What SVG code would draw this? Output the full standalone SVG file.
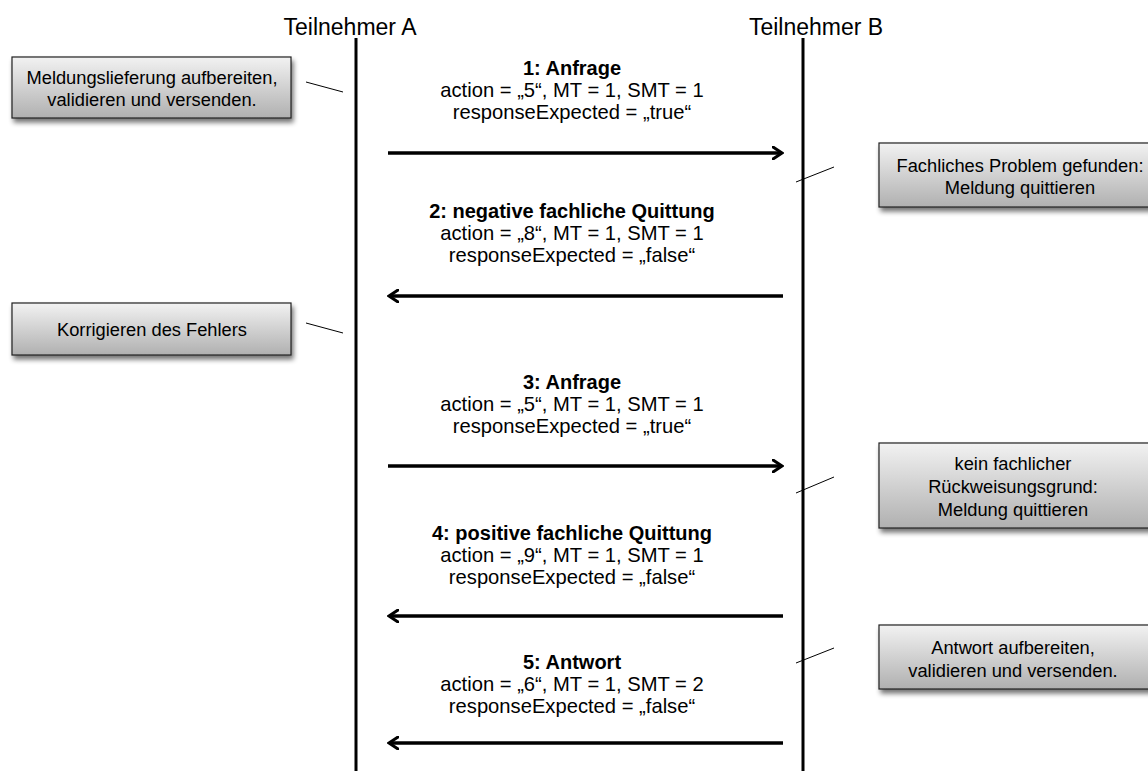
<svg xmlns="http://www.w3.org/2000/svg" width="1148" height="771" viewBox="0 0 1148 771">
<defs>
<linearGradient id="g" x1="0" y1="0" x2="0" y2="1">
<stop offset="0" stop-color="#f2f2f2"/>
<stop offset="1" stop-color="#b0b0b0"/>
</linearGradient>
<filter id="sh" x="-10%" y="-20%" width="125%" height="150%">
<feGaussianBlur in="SourceAlpha" stdDeviation="2.5"/>
<feOffset dx="2" dy="4" result="b"/>
<feComponentTransfer><feFuncA type="linear" slope="0.55"/></feComponentTransfer>
<feMerge><feMergeNode/><feMergeNode in="SourceGraphic"/></feMerge>
</filter>
<marker id="ah" viewBox="0 0 12 14" refX="10" refY="7" markerWidth="12" markerHeight="14" markerUnits="userSpaceOnUse" orient="auto">
<path d="M1,1 L10,7 L1,13" fill="none" stroke="#000" stroke-width="3" stroke-linecap="round" stroke-linejoin="miter"/>
</marker>
</defs>
<style>
text{font-family:"Liberation Sans",Arial,sans-serif;fill:#000}
.t{font-size:23px;text-anchor:middle}
.m{font-size:20.2px;text-anchor:middle}
.b{font-weight:bold;font-size:20px}
.n{font-size:18.3px;text-anchor:middle}
.box{fill:url(#g);stroke:#222;stroke-width:1.2;filter:url(#sh)}
.life{stroke:#000;stroke-width:3}
.msg{stroke:#000;stroke-width:3.5;fill:none;marker-end:url(#ah)}
.lead{stroke:#000;stroke-width:1;fill:none}
</style>
<rect width="1148" height="771" fill="#fff"/>
<g id="participantA">
<text class="t" x="350" y="35">Teilnehmer A</text>
<line class="life" x1="356" y1="38" x2="356" y2="771"/>
</g>
<g id="participantB">
<text class="t" x="816" y="35">Teilnehmer B</text>
<line class="life" x1="803" y1="38" x2="803" y2="771"/>
</g>
<g id="note1">
<rect class="box" x="12" y="57" width="279" height="61"/>
<text class="n" x="152" y="84">Meldungslieferung aufbereiten,</text>
<text class="n" x="152" y="106">validieren und versenden.</text>
</g>
<g id="note2">
<rect class="box" x="879" y="143" width="280" height="64"/>
<text class="n" x="1020" y="172">Fachliches Problem gefunden:</text>
<text class="n" x="1020" y="194">Meldung quittieren</text>
</g>
<g id="note3">
<rect class="box" x="12" y="303" width="279" height="52"/>
<text class="n" x="152" y="336">Korrigieren des Fehlers</text>
</g>
<g id="note4">
<rect class="box" x="879" y="443" width="280" height="85"/>
<text class="n" x="1013" y="470">kein fachlicher</text>
<text class="n" x="1013" y="493">Rückweisungsgrund:</text>
<text class="n" x="1013" y="516">Meldung quittieren</text>
</g>
<g id="note5">
<rect class="box" x="879" y="625" width="280" height="64"/>
<text class="n" x="1013" y="654">Antwort aufbereiten,</text>
<text class="n" x="1013" y="677">validieren und versenden.</text>
</g>
<g id="connectors">
<line class="lead" x1="306" y1="82" x2="343" y2="92"/>
<line class="lead" x1="306" y1="323" x2="343" y2="333"/>
<line class="lead" x1="796" y1="182" x2="834" y2="167"/>
<line class="lead" x1="796" y1="493" x2="834" y2="477"/>
<line class="lead" x1="796" y1="663" x2="834" y2="648"/>
<line class="msg" x1="388" y1="153" x2="782" y2="153"/>
<line class="msg" x1="783" y1="296" x2="389" y2="296"/>
<line class="msg" x1="388" y1="466" x2="782" y2="466"/>
<line class="msg" x1="783" y1="616" x2="389" y2="616"/>
<line class="msg" x1="783" y1="743" x2="389" y2="743"/>
</g>
<g id="label1">
<text class="m b" x="572" y="75">1: Anfrage</text>
<text class="m" x="572" y="97">action = „5“, MT = 1, SMT = 1</text>
<text class="m" x="572" y="119">responseExpected = „true“</text>
</g>
<g id="label2">
<text class="m b" x="572" y="218">2: negative fachliche Quittung</text>
<text class="m" x="572" y="240">action = „8“, MT = 1, SMT = 1</text>
<text class="m" x="572" y="262">responseExpected = „false“</text>
</g>
<g id="label3">
<text class="m b" x="572" y="389">3: Anfrage</text>
<text class="m" x="572" y="411">action = „5“, MT = 1, SMT = 1</text>
<text class="m" x="572" y="433">responseExpected = „true“</text>
</g>
<g id="label4">
<text class="m b" x="572" y="540">4: positive fachliche Quittung</text>
<text class="m" x="572" y="562">action = „9“, MT = 1, SMT = 1</text>
<text class="m" x="572" y="584">responseExpected = „false“</text>
</g>
<g id="label5">
<text class="m b" x="572" y="669">5: Antwort</text>
<text class="m" x="572" y="691">action = „6“, MT = 1, SMT = 2</text>
<text class="m" x="572" y="713">responseExpected = „false“</text>
</g>
</svg>
